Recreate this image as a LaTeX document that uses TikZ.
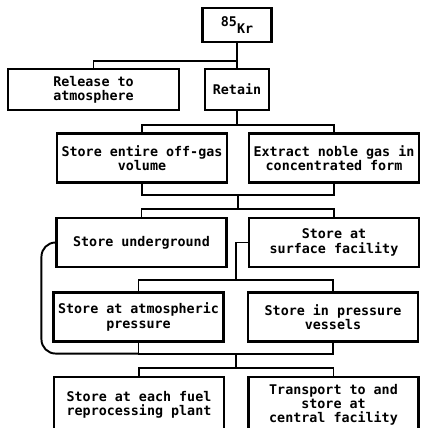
\documentclass[tikz,border=0pt]{standalone}
\usepackage{fontspec}
\setmonofont{DejaVu Sans Mono}
\usetikzlibrary{calc}
\tikzset{
  box/.style ={draw,line width=1.2pt,align=center,inner sep=1pt,
               font=\ttfamily\bfseries\fontsize{7.6}{8.1}\selectfont},
  wbox/.style={box,minimum width=3.4cm,minimum height=0.98cm},
  ln/.style  ={line width=1.1pt},
}
\begin{document}
\begin{tikzpicture}[x=0.02cm,y=-0.02cm]
\clip (0,0) rectangle (421,428);
\node[box,minimum width=1.38cm,minimum height=0.68cm] (kr) at (237,25) {\raisebox{.5ex}{85}\raisebox{-.4ex}{Kr}};
\node[box,minimum width=3.42cm,minimum height=0.82cm] (rel) at (93.5,89.5) {Release to\\atmosphere};
\node[box,minimum width=1.28cm,minimum height=0.82cm] (ret) at (237,89.5) {Retain};
\node[wbox] (sev) at (142,158) {Store entire off-gas\\volume};
\node[wbox] (ext) at (334,158) {Extract noble gas in\\concentrated form};
\node[wbox] (und) at (141.5,242.5) {Store underground};
\node[wbox] (surf) at (334,242.5) {Store at\\surface facility};
\node[wbox] (atm) at (138.5,317) {Store at atmospheric\\pressure};
\node[wbox] (pv) at (333,317) {Store in pressure\\vessels};
\node[wbox,minimum height=1.12cm] (each) at (139,405) {Store at each fuel\\reprocessing plant};
\node[wbox,minimum height=1.12cm] (cent) at (333.5,405) {Transport to and\\store at\\central facility};
\draw[ln] (kr.south) -- ++(0,18) -| (rel.north);
\draw[ln] (kr.south) -- (ret.north);
\draw[ln] (ret.south) -- ++(0,14) coordinate (j2) -| (sev.north);
\draw[ln] (j2) -| (ext.north);
\draw[ln] (sev.south) -- ++(0,11) -| (ext.south);
\coordinate (m3) at ($(sev.south)!.5!(ext.south)+(0,11)$);
\draw[ln] (m3) -- ++(0,14) coordinate (j3) -| (und.north);
\draw[ln] (j3) -| (surf.north);
\coordinate (j4) at ($(atm.north)!.5!(pv.north)+(0,-11)$);
\draw[ln] (surf.west) -| (j4);
\draw[ln] (atm.north) |- (j4);
\draw[ln] (pv.north) |- (j4);
\draw[ln] (atm.south) -- ++(0,11) coordinate (j5) -| (pv.south);
\coordinate (m5) at ($(atm.south)!.5!(pv.south)+(0,11)$);
\draw[ln] (m5) -- ++(0,14) coordinate (j6) -| (each.north);
\draw[ln] (j6) -| (cent.north);
\draw[ln,rounded corners=8pt] (j5) -| ($(und.west)+(-14,0)$) [sharp corners] -- (und.west);
\end{tikzpicture}
\end{document}
